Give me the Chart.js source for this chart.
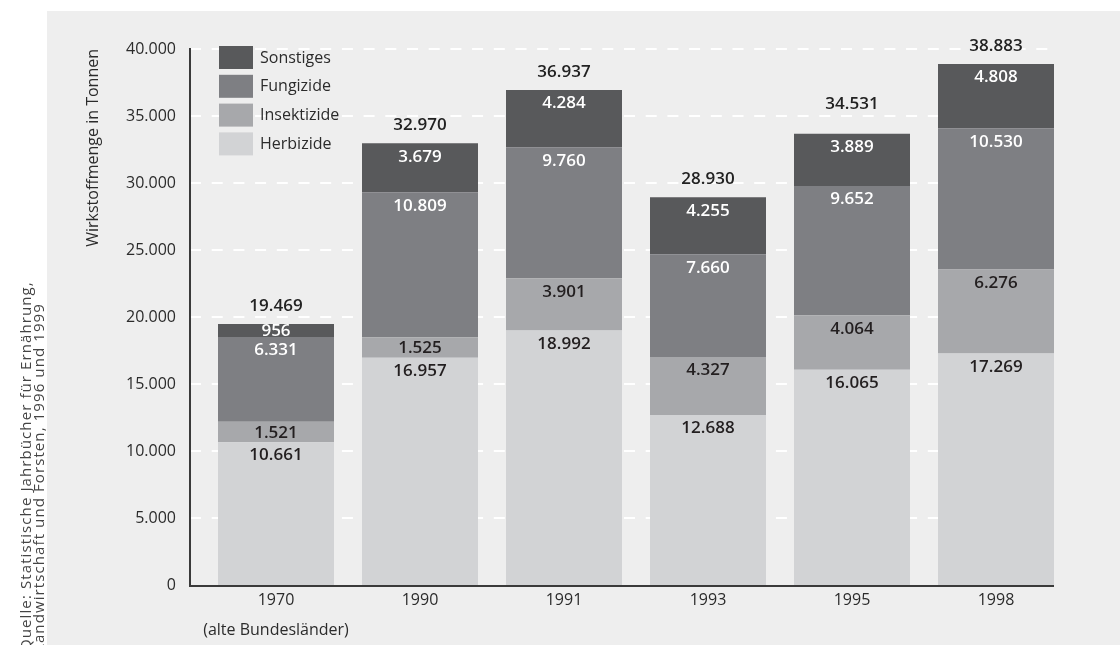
<!DOCTYPE html>
<html lang="de">
<head>
<meta charset="utf-8">
<title>Wirkstoffmenge in Tonnen</title>
<script src="https://cdn.jsdelivr.net/npm/chart.js@4/dist/chart.umd.min.js"></script>
<style>
  html, body { margin: 0; padding: 0; background: #fff; }
  canvas { display: block; }
</style>
</head>
<body>
<canvas id="chart" width="1120" height="645"></canvas>
<script>
const years = ['1970', '1990', '1991', '1993', '1995', '1998'];
const yearNote = '(alte Bundesländer)';

const herbizide   = [10661, 16957, 18992, 12688, 16065, 17269];
const insektizide = [1521, 1525, 3901, 4327, 4064, 6276];
const fungizide   = [6331, 10809, 9760, 7660, 9652, 10530];
const sonstiges   = [956, 3679, 4284, 4255, 3889, 4808];
const totals      = [19469, 32970, 36937, 28930, 34531, 38883];

const yMax = 40000;
const yStep = 5000;

const source = [
    'Quelle: Statistische Jahrbücher für Ernährung,',
    'Landwirtschaft und Forsten, 1996 und 1999'
];

const FONT = '"Open Sans", "Noto Sans", sans-serif';
const TEXT = '#2b2b2b';

// 40000 -> "40.000"
const fmt = n => String(n).replace(/\B(?=(\d{3})+(?!\d))/g, '.');

// axes sit 14px left of the plot area, the bars start 28px after the axis
const AXIS_SHIFT = 14;

const background = {
    id: 'background',
    beforeDraw(c) {
        const ctx = c.ctx;
        ctx.save();
        ctx.fillStyle = '#ffffff';
        ctx.fillRect(0, 0, c.width, c.height);
        ctx.fillStyle = '#eeeeee';
        ctx.fillRect(47, 11, c.width - 47, c.height - 11);

        // source note, rotated along the left border
        ctx.rotate(-Math.PI / 2);
        ctx.fillStyle = '#444';
        ctx.font = '15px ' + FONT;
        ctx.letterSpacing = '1.1px';
        ctx.textAlign = 'left';
        ctx.textBaseline = 'alphabetic';
        ctx.fillText(source[0], -651, 31);
        ctx.fillText(source[1], -652, 44);
        ctx.restore();
    }
};

const gridAndAxes = {
    id: 'gridAndAxes',
    beforeDatasetsDraw(c) {
        const ctx = c.ctx;
        const a = c.chartArea;
        const y = c.scales.y;
        const left = a.left - AXIS_SHIFT;
        const right = a.right - AXIS_SHIFT;
        ctx.save();
        ctx.strokeStyle = '#ffffff';
        ctx.lineWidth = 2;
        ctx.setLineDash([11, 10.7]);
        y.ticks.forEach(t => {
            if (t.value === 0) return;
            const py = Math.round(y.getPixelForValue(t.value));
            ctx.beginPath();
            ctx.moveTo(left, py);
            ctx.lineTo(right, py);
            ctx.stroke();
        });
        ctx.restore();
    },
    afterDatasetsDraw(c) {
        const ctx = c.ctx;
        const a = c.chartArea;
        const left = a.left - AXIS_SHIFT;
        const right = a.right - AXIS_SHIFT;
        ctx.save();
        ctx.strokeStyle = '#3a3a3a';
        ctx.lineWidth = 2;
        ctx.beginPath();
        ctx.moveTo(left, a.top - 1);
        ctx.lineTo(left, a.bottom + 1);
        ctx.lineTo(right, a.bottom + 1);
        ctx.stroke();
        ctx.restore();
    }
};

const valueLabels = {
    id: 'valueLabels',
    afterDatasetsDraw(c) {
        const ctx = c.ctx;
        ctx.save();
        ctx.font = '600 17px ' + FONT;
        ctx.textAlign = 'center';
        ctx.textBaseline = 'middle';
        c.data.datasets.forEach((ds, di) => {
            const meta = c.getDatasetMeta(di);
            ctx.fillStyle = ds.labelColor;
            meta.data.forEach((bar, i) => {
                const top = Math.min(bar.y, bar.base);
                const h = Math.abs(bar.base - bar.y);
                ctx.fillText(fmt(ds.data[i]), bar.x, top + Math.min(12.5, h / 2) + 1);
            });
        });

        // totals above each stack
        const y = c.scales.y;
        const meta = c.getDatasetMeta(0);
        ctx.fillStyle = '#222';
        totals.forEach((t, i) => {
            ctx.fillText(fmt(t), meta.data[i].x, y.getPixelForValue(t) - 18);
        });
        ctx.restore();
    }
};

const boxLegend = {
    id: 'boxLegend',
    afterDraw(c) {
        const ctx = c.ctx;
        const a = c.chartArea;
        const x0 = a.left + 15;
        const y0 = 46;
        const rowH = 28.8;
        ctx.save();
        ctx.font = '16px ' + FONT;
        ctx.textAlign = 'left';
        ctx.textBaseline = 'middle';
        c.data.datasets.slice().reverse().forEach((ds, k) => {
            const yy = y0 + k * rowH;
            ctx.fillStyle = ds.backgroundColor;
            ctx.fillRect(x0, yy, 34, 23);
            ctx.fillStyle = TEXT;
            ctx.fillText(ds.label, x0 + 41, yy + 12);
        });
        ctx.restore();
    }
};

const labels = years.map((yr, i) => i === 0 ? [yr, yearNote] : yr);

new Chart(document.getElementById('chart'), {
    type: 'bar',
    data: {
        labels: labels,
        datasets: [
            { label: 'Herbizide',   data: herbizide,   backgroundColor: '#d2d3d5', labelColor: '#231f20' },
            { label: 'Insektizide', data: insektizide, backgroundColor: '#a7a8ab', labelColor: '#231f20' },
            { label: 'Fungizide',   data: fungizide,   backgroundColor: '#7e7f83', labelColor: '#ffffff' },
            { label: 'Sonstiges',   data: sonstiges,   backgroundColor: '#58595b', labelColor: '#ffffff' }
        ]
    },
    options: {
        responsive: false,
        animation: false,
        devicePixelRatio: 1,
        categoryPercentage: 1,
        barPercentage: 116 / 144,
        borderWidth: 0,
        layout: { padding: { left: 80, right: 52, top: 49, bottom: 0 } },
        plugins: {
            legend: { display: false },
            tooltip: { enabled: false }
        },
        scales: {
            x: {
                stacked: true,
                grid: { display: false, drawTicks: false },
                border: { display: false },
                ticks: {
                    color: TEXT,
                    padding: 0,
                    maxRotation: 0,
                    autoSkip: false,
                    font: { family: FONT, size: 16, lineHeight: 1.875 }
                }
            },
            y: {
                stacked: true,
                min: 0,
                max: yMax,
                afterFit(scale) { scale.width = 124; },
                grid: { display: false, drawTicks: false },
                border: { display: false },
                ticks: {
                    stepSize: yStep,
                    padding: 28,
                    color: TEXT,
                    font: { family: FONT, size: 16 },
                    callback: v => fmt(v)
                },
                title: {
                    display: true,
                    text: 'Wirkstoffmenge in Tonnen',
                    align: 'end',
                    color: TEXT,
                    padding: { top: 4, bottom: 4 },
                    font: { family: FONT, size: 16 }
                }
            }
        }
    },
    plugins: [background, gridAndAxes, valueLabels, boxLegend]
});
</script>
</body>
</html>
